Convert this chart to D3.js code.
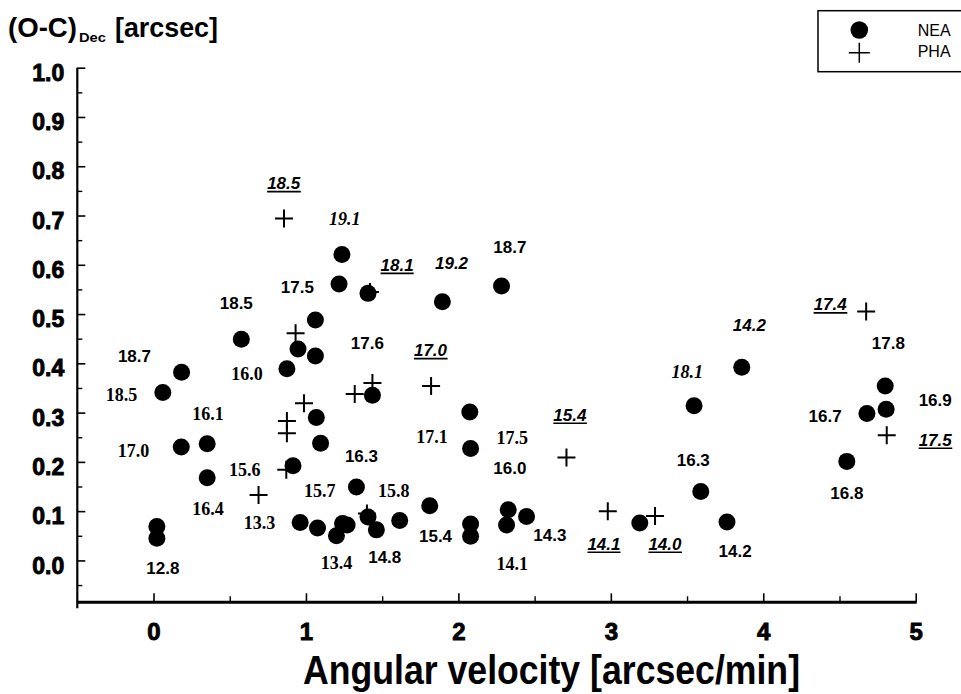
<!DOCTYPE html>
<html><head><meta charset="utf-8">
<script src="https://cdn.jsdelivr.net/npm/d3@7"></script>
<style>body{margin:0;background:#fff}svg{display:block}</style>
</head><body>
<svg id="c" width="961" height="694"></svg>
<script>
// ---- data ----
const neaX = [0.022,0.022,0.061,0.184,0.182,0.352,0.352,0.576,0.875,0.948,1.062,1.062,1.068,1.096,0.915,0.962,1.076,1.200,1.240,1.270,1.407,1.462,1.615,1.331,1.812,2.080,2.080,2.327,2.316,2.447,2.075,2.080,1.236,1.217,1.407,1.895,2.283,1.436,3.190,3.762,3.590,3.546,3.859,4.548,4.680,4.806,4.800];
const neaY = [0.069,0.045,0.341,0.382,0.230,0.237,0.168,0.449,0.389,0.429,0.488,0.415,0.290,0.238,0.192,0.077,0.066,0.050,0.075,0.072,0.088,0.062,0.081,0.149,0.111,0.074,0.049,0.103,0.072,0.089,0.301,0.227,0.621,0.561,0.542,0.525,0.557,0.335,0.076,0.078,0.140,0.314,0.392,0.201,0.298,0.307,0.354];
const phaX = [0.689,0.871,0.875,0.875,0.987,0.932,0.856,1.420,1.320,1.436,1.821,1.400,2.709,2.980,3.290,4.675,4.810];
const phaY = [0.133,0.184,0.283,0.258,0.319,0.461,0.694,0.545,0.338,0.360,0.354,0.095,0.209,0.100,0.090,0.505,0.254];

const labelText  = ["18.7","18.5","18.5","16.0","17.5","16.1","17.0","16.4","15.6","13.3","12.8","18.5","19.1","18.1","19.2","18.7","17.6","17.0","16.3","15.7","15.8","13.4","14.8","15.4","17.1","17.5","16.0","14.1","14.3","15.4","14.1","14.0","18.1","14.2","16.3","14.2","17.4","17.8","16.7","16.9","17.5","16.8"];
const labelX     = [-0.125,-0.210,0.543,0.613,0.944,0.357,-0.131,0.357,0.598,0.696,0.061,0.854,1.254,1.598,1.955,2.338,1.403,1.817,1.364,1.090,1.576,1.200,1.517,1.850,1.827,2.353,2.338,2.353,2.600,2.731,2.955,3.355,3.502,3.909,3.541,3.815,4.439,4.821,4.406,5.128,5.128,4.548];
const labelY     = [0.415,0.336,0.522,0.380,0.556,0.299,0.223,0.105,0.184,0.076,-0.015,0.766,0.693,0.600,0.603,0.636,0.442,0.427,0.212,0.141,0.141,-0.005,0.008,0.050,0.252,0.249,0.187,-0.007,0.052,0.296,0.034,0.034,0.383,0.478,0.204,0.020,0.520,0.442,0.294,0.326,0.245,0.137];
const labelStyle = ["S","T","S","T","S","T","T","T","T","T","S","SIU","TI","SIU","SI","S","S","SIU","S","T","T","T","S","S","T","T","S","T","S","SIU","SIU","SIU","TI","SI","S","S","SIU","S","S","S","SIU","S"];

const xTicks = [0,1,2,3,4,5];
const xMinorTicks = [0.5,1.5,2.5,3.5,4.5];
const yTicks = [0.0,0.1,0.2,0.3,0.4,0.5,0.6,0.7,0.8,0.9,1.0];
const yMinorTicks = [-0.05,0.05,0.15,0.25,0.35,0.45,0.55,0.65,0.75,0.85,0.95];
const legendNames = ["NEA","PHA"];
const xTitle = "Angular velocity [arcsec/min]";

// ---- layout ----
const svg = d3.select("#c");
const x = d3.scaleLinear().domain([-0.5,5]).range([77.3,915.7]);
const y = d3.scaleLinear().domain([-0.085,1.0]).range([602.3,67.7]);
const SANS = "'Liberation Sans', Arial, sans-serif";
const SERIF = "'Liberation Serif', 'Times New Roman', serif";

// y axis
const yAxis = d3.axisLeft(y).tickValues(yTicks).tickFormat(d=>d.toFixed(1)).tickSizeInner(-8).tickSizeOuter(0).tickPadding(13);
const gy = svg.append("g").attr("transform",`translate(${x(-0.5)},0)`).call(yAxis);
gy.select(".domain").remove();
gy.selectAll(".tick line").attr("stroke","#000").attr("stroke-width",1.6);
gy.selectAll(".tick text").attr("font-family",SANS).attr("font-weight","bold").attr("font-size",23)
  .attr("fill","#000").attr("stroke","#000").attr("stroke-width",0.9).attr("dy","0.55em");
const gy2 = svg.append("g").attr("transform",`translate(${x(-0.5)},0)`)
  .call(d3.axisLeft(y).tickValues(yMinorTicks).tickFormat("").tickSizeInner(-5).tickSizeOuter(0));
gy2.select(".domain").remove();
gy2.selectAll(".tick line").attr("stroke","#000").attr("stroke-width",1.4);
svg.append("line").attr("x1",x(-0.5)).attr("x2",x(-0.5)).attr("y1",y(1.0)).attr("y2",y(-0.085)+6)
  .attr("stroke","#000").attr("stroke-width",2.2);

// x axis
const xAxis = d3.axisBottom(x).tickValues(xTicks).tickFormat(d3.format("d")).tickSizeInner(-9).tickSizeOuter(0).tickPadding(21);
const gx = svg.append("g").attr("transform",`translate(0,${y(-0.085)})`).call(xAxis);
gx.select(".domain").remove();
gx.selectAll(".tick line").attr("stroke","#000").attr("stroke-width",1.6);
gx.selectAll(".tick text").attr("font-family",SANS).attr("font-weight","bold").attr("font-size",24)
  .attr("fill","#000").attr("stroke","#000").attr("stroke-width",0.9);
const gx2 = svg.append("g").attr("transform",`translate(0,${y(-0.085)})`)
  .call(d3.axisBottom(x).tickValues(xMinorTicks).tickFormat("").tickSizeInner(-6).tickSizeOuter(0));
gx2.select(".domain").remove();
gx2.selectAll(".tick line").attr("stroke","#000").attr("stroke-width",1.4);
svg.append("line").attr("x1",x(-0.5)).attr("x2",x(5)+1).attr("y1",y(-0.085)).attr("y2",y(-0.085))
  .attr("stroke","#000").attr("stroke-width",3);

// axis titles
const yt = svg.append("g").attr("font-family",SANS).attr("font-weight","bold").attr("fill","#000");
yt.append("text").attr("x",8).attr("y",36.5).attr("font-size",27).attr("textLength",69).attr("lengthAdjust","spacingAndGlyphs").text("(O-C)");
yt.append("text").attr("x",79).attr("y",42).attr("font-size",13).attr("textLength",27).attr("lengthAdjust","spacingAndGlyphs").text("Dec");
yt.append("text").attr("x",115).attr("y",36.5).attr("font-size",27).attr("textLength",103).attr("lengthAdjust","spacingAndGlyphs").text("[arcsec]");
svg.append("text").attr("x",303).attr("y",684).attr("font-family",SANS).attr("font-weight","bold")
  .attr("font-size",41).attr("textLength",497).attr("lengthAdjust","spacingAndGlyphs").attr("fill","#000").text(xTitle);

// markers: PHA pluses first, NEA circles on top
const P = 9;
const phaData = phaX.map((v,i)=>({x:v,y:phaY[i]}));
svg.append("g").selectAll("path").data(phaData).join("path")
  .attr("d",d=>`M${x(d.x)-P},${y(d.y)}H${x(d.x)+P}M${x(d.x)},${y(d.y)-P}V${y(d.y)+P}`)
  .attr("stroke","#000").attr("stroke-width",2).attr("fill","none");
const neaData = neaX.map((v,i)=>({x:v,y:neaY[i]}));
svg.append("g").selectAll("circle").data(neaData).join("circle")
  .attr("cx",d=>x(d.x)).attr("cy",d=>y(d.y)).attr("r",8.5).attr("fill","#000");

// labels
const styles = {
  S:  {f:SANS, s:17, it:false, u:false},
  T:  {f:SERIF,s:18, it:false, u:false},
  SI: {f:SANS, s:17, it:true,  u:false},
  SIU:{f:SANS, s:17, it:true,  u:true},
  TI: {f:SERIF,s:18, it:true,  u:false}
};
const lg = svg.append("g");
labelText.forEach((t,i)=>{
  const st = styles[labelStyle[i]];
  const cx = x(labelX[i]), cy = y(labelY[i]);
  const base = cy + 0.36*st.s;
  const tx = lg.append("text").attr("x",cx).attr("y",base).attr("text-anchor","middle")
    .attr("font-family",st.f).attr("font-weight","bold").attr("font-style",st.it?"italic":"normal")
    .attr("font-size",st.s).attr("fill","#000").text(t);
  if (st.u) {
    const bb = tx.node().getBBox();
    lg.append("line").attr("x1",bb.x).attr("x2",bb.x+bb.width).attr("y1",base+2.5).attr("y2",base+2.5)
      .attr("stroke","#000").attr("stroke-width",1.6);
  }
});

// legend
const leg = svg.append("g");
leg.append("rect").attr("x",818).attr("y",10.7).attr("width",160).attr("height",61)
  .attr("fill","#fff").attr("stroke","#000").attr("stroke-width",1.5);
leg.append("circle").attr("cx",859.3).attr("cy",30).attr("r",8.8).attr("fill","#000");
leg.append("path").attr("d","M848.8,52.7H869.8M859.3,42.7V62.7").attr("stroke","#000").attr("stroke-width",1.5);
legendNames.forEach((n,i)=>{
  leg.append("text").attr("x",917.7).attr("y",36+i*21.3).attr("font-family",SANS).attr("font-size",16)
    .attr("fill","#000").text(n);
});
</script>
</body></html>
